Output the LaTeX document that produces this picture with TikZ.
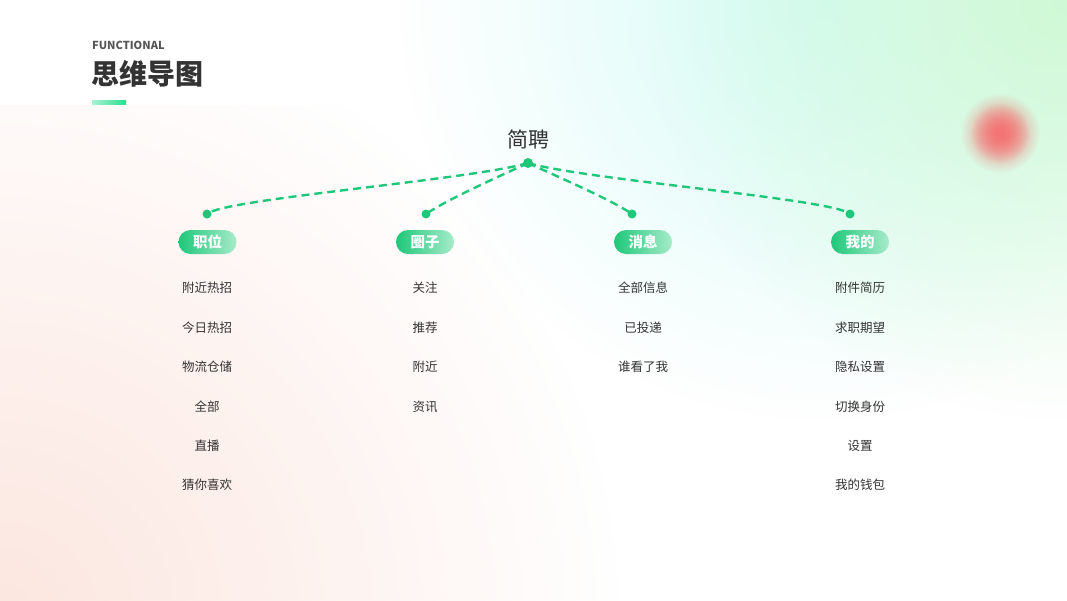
\documentclass[tikz,border=0pt]{standalone}
\usepackage{fontspec}
\newfontfamily\cjk{Noto Sans CJK SC}
\usetikzlibrary{fadings}
\definecolor{gr}{HTML}{1FC77A}
\definecolor{grlight}{HTML}{A6EBC9}
\definecolor{txt}{HTML}{333333}
\definecolor{fgray}{HTML}{555555}
\definecolor{pinkbg}{HTML}{FCE6DF}
\definecolor{cyanbg}{HTML}{D6FCF8}
\definecolor{greenbg}{HTML}{CFF9D5}
\definecolor{redblob}{HTML}{F47474}
\definecolor{barl}{HTML}{A8F2D6}
\definecolor{barr}{HTML}{27E08E}
\tikzfading[name=fuzz, inner color=transparent!0, outer color=transparent!100]
\begin{document}
\begin{tikzpicture}[x=1pt,y=-1pt,
  dot/.style={circle,fill=gr,inner sep=0pt,minimum size=#1},
  dot/.default=9pt,
  link/.style={draw=gr,line width=2.4pt,dash pattern=on 8pt off 5pt},
  pill/.style={rounded corners=12pt,minimum width=58pt,minimum height=24pt,inner sep=0pt,
    left color=gr,right color=grlight,text=white,font=\cjk\bfseries\fontsize{14.5}{15}\selectfont},
  item/.style={text=txt,inner sep=0pt,font=\cjk\fontsize{12.5}{13}\selectfont}]
\useasboundingbox (0,0) rectangle (1067,600);
% background
\fill[white] (0,0) rectangle (1067,600);
\begin{scope}
  \clip (0,105) rectangle (1067,600);
  \fill[pinkbg,path fading=fuzz] (0,620) circle (620);
\end{scope}
\fill[cyanbg,path fading=fuzz] (820,0) circle (420);
\fill[greenbg,path fading=fuzz] (1067,0) circle (420);
\fill[redblob,path fading=fuzz] (1000,133) circle (40);
\fill[redblob,path fading=fuzz] (1000,133) circle (30);
% header
\node[anchor=west,inner sep=0pt,text=fgray,font=\cjk\bfseries\fontsize{11}{11}\selectfont] (fn) at (92,45) {FUNCTIONAL};
\node[anchor=west,inner sep=0pt,text=txt,font=\cjk\bfseries\fontsize{28}{28}\selectfont] (title) at (91,74) {思维导图};
\shade[left color=barl,right color=barr] (92,100) rectangle (126,104);
% root
\node[inner sep=0pt,text=txt,font=\cjk\fontsize{21}{21}\selectfont] (root) at (528,139) {简聘};
\node[dot=10pt] (r) at (528,163) {};
\node[dot] (d1) at (207,214) {};
\node[dot] (d2) at (426,214) {};
\node[dot] (d3) at (632,214) {};
\node[dot] (d4) at (850,214) {};
\draw[link] (r.center) .. controls (470,180) and (222,199) .. (d1.center);
\draw[link] (r.center) .. controls (500,176) and (446,200) .. (d2.center);
\draw[link] (r.center) .. controls (556,176) and (612,200) .. (d3.center);
\draw[link] (r.center) .. controls (586,180) and (835,199) .. (d4.center);
% pills
\node[pill] (p1) at (207.5,242) {职位};
\node[pill] (p2) at (425,242) {圈子};
\node[pill] (p3) at (643,242) {消息};
\node[pill] (p4) at (860,242) {我的};
% items
\node[item] (a1) at (207,288) {附近热招};
\node[item] (a2) at (207,328) {今日热招};
\node[item] (a3) at (207,367) {物流仓储};
\node[item] (a4) at (207,407) {全部};
\node[item] (a5) at (207,446) {直播};
\node[item] (a6) at (207,485) {猜你喜欢};
\node[item] (b1) at (425,288) {关注};
\node[item] (b2) at (425,328) {推荐};
\node[item] (b3) at (425,367) {附近};
\node[item] (b4) at (425,407) {资讯};
\node[item] (c1) at (643,288) {全部信息};
\node[item] (c2) at (643,328) {已投递};
\node[item] (c3) at (643,367) {谁看了我};
\node[item] (e1) at (860,288) {附件简历};
\node[item] (e2) at (860,328) {求职期望};
\node[item] (e3) at (860,367) {隐私设置};
\node[item] (e4) at (860,407) {切换身份};
\node[item] (e5) at (860,446) {设置};
\node[item] (e6) at (860,485) {我的钱包};
\end{tikzpicture}
\end{document}
